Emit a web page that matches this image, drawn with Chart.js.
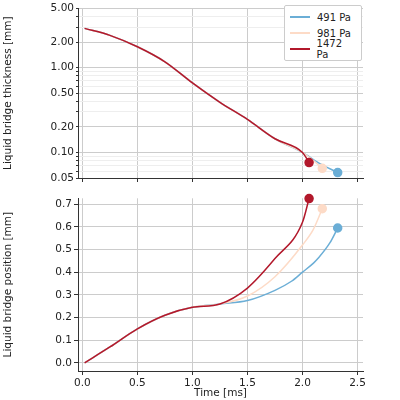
<!DOCTYPE html><html><head><meta charset="utf-8">
<script src="https://cdn.jsdelivr.net/npm/chart.js@4/dist/chart.umd.min.js"></script>
<style>body{margin:0;background:#fff;width:400px;height:400px;position:relative;overflow:hidden;font-family:"DejaVu Sans"}
#c1w{position:absolute;left:0;top:0;width:400px;height:195px}
#c2w{position:absolute;left:0;top:190px;width:400px;height:210px}
#leg{position:absolute;left:284px;top:5px;width:66px;border:1px solid #ccc;border-radius:2px;background:#fff;font-size:10px;color:#222;padding:3px 5px}
#leg div{display:flex;align-items:center;height:16px}#leg span{display:inline-block;width:20px;height:2px;margin-right:7px}
</style></head><body>
<div id="c1w"><canvas id="c1"></canvas></div><div id="c2w"><canvas id="c2"></canvas></div>
<div id="leg"><div><span style="background:#6baed6"></span>491 Pa</div><div><span style="background:#fddbc7"></span>981 Pa</div><div><span style="background:#b2182b"></span>1472 Pa</div></div>
<script>
const labels=["491 Pa","981 Pa","1472 Pa"];
const colors=["#6baed6","#fddbc7","#b2182b"];
const xTicks=[0,0.5,1,1.5,2,2.5];
const thickTicks=[0.05,0.1,0.2,0.5,1,2,5];
const posTicks=[0,0.1,0.2,0.3,0.4,0.5,0.6,0.7];
const tThick=[0.02,0.25,0.5,0.75,1.0,1.25,1.5,1.75,2.0];
const thickCommon=[2.9,2.4,1.76,1.17,0.66,0.39,0.245,0.145,0.1];
const tEnd1=[2.15,2.32],thick1=[0.075,0.058];
const tEnd2=[2.1,2.18],thick2=[0.08,0.065];
const tEnd3=[2.06],thick3=[0.076];
const tPos=[0.02,0.25,0.5,0.75,1.0,1.25];
const posCommon=[0,0.07,0.15,0.21,0.245,0.26];
const tPos1=[1.5,1.75,1.9,2.0,2.1,2.14,2.25,2.32],pos1=[0.275,0.32,0.36,0.40,0.44,0.46,0.53,0.595];
const tPos2=[1.5,1.75,2.0,2.1,2.18],pos2=[0.295,0.38,0.52,0.59,0.68];
const tPos3=[1.5,1.75,2.0,2.06],pos3=[0.33,0.46,0.62,0.725];
const zip=(a,b)=>a.map((x,i)=>({x,y:b[i]}));
function ds(xs,ys,i,extraX,extraY){const d=zip(xs,ys).concat(zip(extraX,extraY));
 return {label:labels[i],data:d,borderColor:colors[i],backgroundColor:colors[i],borderWidth:1.5,cubicInterpolationMode:'monotone',clip:false,
 pointRadius:c=>c.dataIndex===d.length-1?4:0,pointHoverRadius:0};}
Chart.defaults.font.family="DejaVu Sans";Chart.defaults.font.size=10.5;Chart.defaults.color="#222";Chart.defaults.animation=false;
const xScale=(show)=>({type:'linear',min:-0.04,max:2.55,afterBuildTicks:s=>{s.ticks=xTicks.map(v=>({value:v}))},
 ticks:{display:show,callback:v=>v.toFixed(1),maxRotation:0,padding:2},grid:{color:'#ccc',tickColor:'#333',tickLength:4},border:{color:'#333'},
 title:{display:show,text:'Time [ms]',padding:0},afterFit:s=>{s.height=show?29:17}});
const minor=[];[0.01,0.1,1].forEach(b=>{for(let k=1;k<10;k++){const v=+(b*k).toPrecision(3);if(v>=0.05&&v<=5)minor.push(v)}});
const isMaj=v=>thickTicks.includes(+(+v).toPrecision(3));
new Chart(document.getElementById('c1'),{type:'line',data:{datasets:[ds(tThick,thickCommon,2,tEnd3,thick3),ds(tThick,thickCommon,1,tEnd2,thick2),ds(tThick,thickCommon,0,tEnd1,thick1)]},
 options:{responsive:true,maintainAspectRatio:false,layout:{padding:{top:4,right:37,left:0,bottom:0}},plugins:{legend:{display:false},tooltip:{enabled:false}},
 scales:{x:xScale(false),y:{type:'logarithmic',min:0.05,max:5,afterBuildTicks:s=>{s.ticks=minor.map(v=>({value:v,major:isMaj(v)}))},
 ticks:{autoSkip:false,callback:(v)=>isMaj(v)?(+v).toFixed(2):'',padding:2},
 grid:{color:c=>c.tick&&isMaj(c.tick.value)?'#ccc':'#eee',tickColor:'#333',tickLength:c=>c.tick&&isMaj(c.tick.value)?4:2},border:{color:'#333'},
 title:{display:true,text:'Liquid bridge thickness [mm]',padding:2},afterFit:s=>{s.width=78}}}}});
new Chart(document.getElementById('c2'),{type:'line',data:{datasets:[ds(tPos,posCommon,2,tPos3,pos3),ds(tPos,posCommon,1,tPos2,pos2),ds(tPos,posCommon,0,tPos1,pos1)]},
 options:{responsive:true,maintainAspectRatio:false,layout:{padding:{top:6,right:37,left:0,bottom:0}},plugins:{legend:{display:false},tooltip:{enabled:false}},
 scales:{x:xScale(true),y:{type:'linear',min:-0.036,max:0.726,afterBuildTicks:s=>{s.ticks=posTicks.map(v=>({value:v}))},
 ticks:{callback:v=>(+v).toFixed(1),padding:2},grid:{color:'#ccc',tickColor:'#333',tickLength:4},border:{color:'#333'},
 title:{display:true,text:'Liquid bridge position [mm]',padding:2},afterFit:s=>{s.width=78}}}}});
</script></body></html>
